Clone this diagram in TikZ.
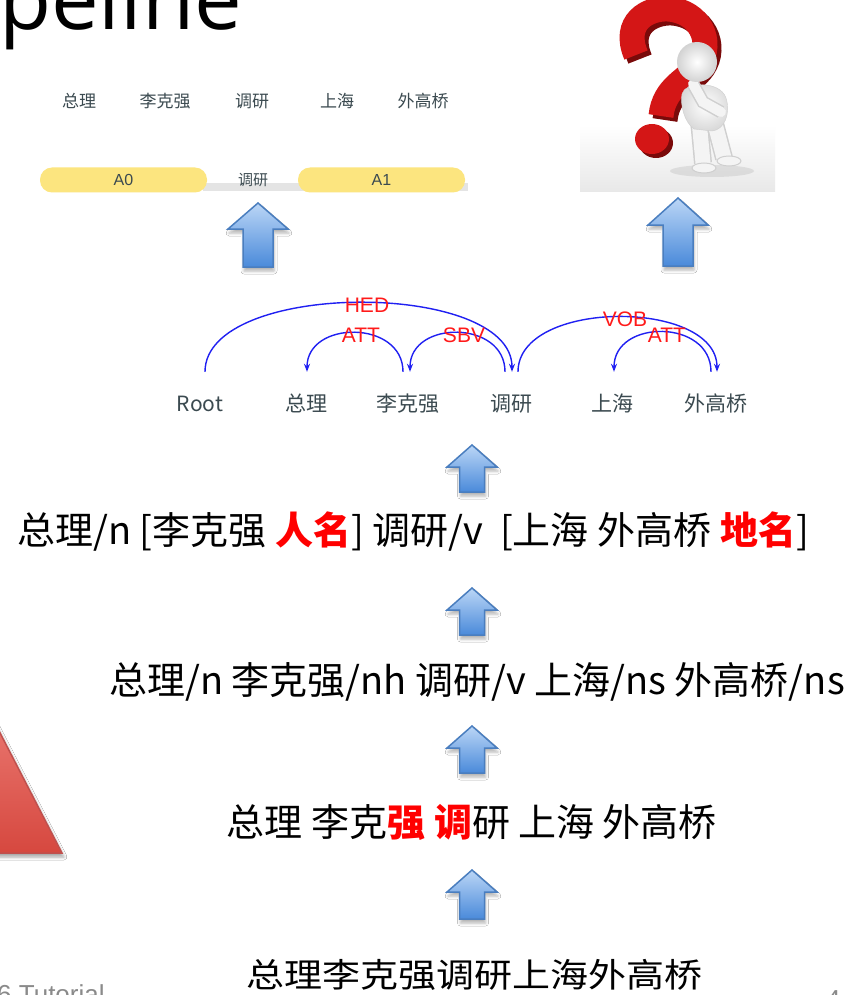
\documentclass[tikz,border=0pt]{standalone}
\usepackage{fontspec}
\setmainfont{Noto Sans CJK SC}
\newfontfamily\latinsans{Liberation Sans}
\newfontfamily\titlefont{Open Sans}
\usetikzlibrary{arrows.meta,shadows.blur}

\definecolor{wordgrey}{HTML}{3B4A50}
\definecolor{pillyellow}{HTML}{FCE57F}
\definecolor{bargrey}{HTML}{E4E4E4}
\definecolor{arcblue}{HTML}{2020F2}
\definecolor{labelred}{HTML}{FF1A1A}
\definecolor{hlred}{HTML}{FF0000}
\definecolor{arrowtop}{HTML}{BBD6F6}
\definecolor{arrowbot}{HTML}{4A8ADA}
\definecolor{arrowedge}{HTML}{4A7EBF}
\definecolor{qred}{HTML}{D41616}
\definecolor{qdark}{HTML}{7A0A0A}
\definecolor{tritop}{HTML}{F5918B}
\definecolor{tribot}{HTML}{D6483F}
\definecolor{triedge}{HTML}{C0504D}
\definecolor{footgrey}{HTML}{8A8A8A}
\definecolor{figedge}{HTML}{CFCFCF}
\definecolor{figbody}{HTML}{F4F4F4}

\newcommand\hlword[1]{\textcolor{hlred}{\bfseries #1}}

\tikzset{
  srlword/.style={font=\fontsize{17}{17}\selectfont, text=wordgrey, inner sep=0},
  pill/.style={fill=pillyellow, rounded corners=12pt, minimum height=25pt,
    inner sep=0, font=\latinsans\fontsize{16}{16}\selectfont, text=wordgrey},
  depword/.style={font=\fontsize{21}{21}\selectfont, text=wordgrey, inner sep=0,
    anchor=base, text height=17pt, text depth=4pt},
  deparc/.style={draw=arcblue, line width=1.4pt, -{Stealth[length=8pt,width=6pt]}},
  deplabel/.style={text=labelred, font=\latinsans\fontsize{21}{21}\selectfont, inner sep=0},
  bigline/.style={font=\fontsize{38}{38}\selectfont, inner sep=0, anchor=base},
  arrowbody/.style={top color=arrowtop, bottom color=arrowbot, draw=arrowedge,
    line width=1.5pt, line join=miter,
    blur shadow={shadow xshift=1pt, shadow yshift=-4pt, shadow blur radius=3pt, shadow opacity=30}},
  pics/uparrow/.style n args={3}{code={
    \path[arrowbody] (0,0) -- (#1/2,#3) -- (#1/4,#3) -- (#1/4,#2) -- (-#1/4,#2)
      -- (-#1/4,#3) -- (-#1/2,#3) -- cycle;
  }},
  limb/.style={line cap=round, preaction={draw=figedge, line width=#1+3pt}, draw=figbody, line width=#1},
  footer/.style={font=\latinsans\fontsize{26}{26}\selectfont, text=footgrey, inner sep=0},
}

\begin{document}
\begin{tikzpicture}[x=1pt,y=-1pt]
\useasboundingbox (0,0) rectangle (852,995);
\fill[white] (0,0) rectangle (852,995);

% slide title, cut by the top edge
\node[anchor=base west, inner sep=0, font=\titlefont\fontsize{85}{85}\selectfont] (title) at (-1,30) {peline};

% ---------- semantic role panel ----------
\node[srlword] (s1) at (79,101) {总理};
\node[srlword] (s2) at (165,101) {李克强};
\node[srlword] (s3) at (252,101) {调研};
\node[srlword] (s4) at (337,101) {上海};
\node[srlword] (s5) at (423,101) {外高桥};

\fill[bargrey] (203,183) rectangle (468,191);
\node[pill, minimum width=167pt] (a0) at (123.5,180) {A0};
\node[pill, minimum width=167pt] (a1) at (381.5,180) {A1};
\node[srlword, font=\fontsize{15}{15}\selectfont] (pred) at (253,180) {调研};

% ---------- thinking figure ----------
\begin{scope}
  \shade[top color=white, bottom color=gray!18] (580,125) rectangle (775,192);
  \fill[gray!50, opacity=.4] (712,171) ellipse [x radius=42, y radius=6];
  % question mark, dark back face then red front
  \draw[qdark, line width=25pt, shift={(4,4)}] (636,55) .. controls (622,22) and (648,8) .. (668,9)
    .. controls (700,11) and (714,42) .. (699,64) .. controls (688,80) and (664,86) .. (661,116);
  \draw[qred, line width=25pt] (636,55) .. controls (622,22) and (648,8) .. (668,9)
    .. controls (700,11) and (714,42) .. (699,64) .. controls (688,80) and (664,86) .. (661,116);
  \fill[qdark] (656,143) ellipse [x radius=17, y radius=15];
  \fill[qred] (652,139) ellipse [x radius=17, y radius=15];
  % little white figure
  \draw[limb=15pt] (699,120) -- (703,163);
  \draw[limb=15pt] (714,120) -- (724,158);
  \fill[figbody, draw=figedge, line width=1pt] (704,168) ellipse [x radius=12, y radius=5];
  \fill[figbody, draw=figedge, line width=1pt] (729,161) ellipse [x radius=12, y radius=5];
  \shade[inner color=white, outer color=gray!30, draw=figedge] (682,94) .. controls (684,82) and (720,80) .. (726,98)
    .. controls (731,114) and (724,130) .. (712,131) -- (694,129)
    .. controls (684,122) and (680,104) .. (682,94) -- cycle;
  \draw[limb=10pt] (721,112) -- (703,102) -- (693,84);
  \shade[inner color=white, outer color=gray!35] (697,62) circle [radius=20];
\end{scope}

% ---------- up arrows ----------
\pic (up1) at (258,203) {uparrow={60}{64}{26}};
\pic (up2) at (678,198) {uparrow={60}{68}{27}};
\pic (up3) at (472,445) {uparrow={50}{47}{22}};
\pic (up4) at (472,588) {uparrow={50}{47}{22}};
\pic (up5) at (472,726) {uparrow={50}{47}{22}};
\pic (up6) at (472,870) {uparrow={50}{49}{22}};

% ---------- dependency tree ----------
\node[depword] (r0) at (200,411) {Root};
\node[depword] (r1) at (306,411) {总理};
\node[depword] (r2) at (408,411) {李克强};
\node[depword] (r3) at (511,411) {调研};
\node[depword] (r4) at (612,411) {上海};
\node[depword] (r5) at (716,411) {外高桥};

\draw[deparc] ([xshift=5pt,yshift=22pt]r0.north) .. controls +(0,-92) and +(0,-92) .. ([xshift=1pt,yshift=22pt]r3.north);
\draw[deparc] ([xshift=-5pt,yshift=22pt]r2.north) .. controls +(0,-52) and +(0,-52) .. ([xshift=1pt,yshift=22pt]r1.north);
\draw[deparc] ([xshift=-6pt,yshift=22pt]r3.north) .. controls +(0,-52) and +(0,-52) .. ([xshift=2pt,yshift=22pt]r2.north);
\draw[deparc] ([xshift=7pt,yshift=22pt]r3.north) .. controls +(0,-73) and +(0,-73) .. ([xshift=1pt,yshift=22pt]r5.north);
\draw[deparc] ([xshift=-5pt,yshift=22pt]r5.north) .. controls +(0,-53) and +(0,-53) .. ([xshift=2pt,yshift=22pt]r4.north);

\node[deplabel] (lhed) at (367,305) {HED};
\node[deplabel] (latt1) at (361,335) {ATT};
\node[deplabel] (lsbv) at (464,335) {SBV};
\node[deplabel] (lvob) at (625,319) {VOB};
\node[deplabel] (latt2) at (667,335) {ATT};

% ---------- processing stages ----------
\node[bigline] (ner) at (413,544) {总理/n [李克强 \hlword{人名}] 调研/v\ \ [上海 外高桥 \hlword{地名}]};
\node[bigline] (pos) at (477,694) {总理/n 李克强/nh 调研/v 上海/ns 外高桥/ns};
\node[bigline] (seg) at (472,836) {总理 李克\hlword{强} \hlword{调}研 上海 外高桥};
\node[bigline, yscale=0.88, transform shape] (raw) at (474,987) {总理李克强调研上海外高桥};

% ---------- side triangle and footer ----------
\path[top color=tritop, bottom color=tribot, draw=triedge, line width=1.5pt,
  blur shadow={shadow xshift=2pt, shadow yshift=-4pt, shadow blur radius=3pt, shadow opacity=35}]
  (-50,636) -- (62,853) -- (-50,853) -- cycle;
\node[footer, anchor=base west] (foot) at (-3,1003) {6 Tutorial};
\node[footer, anchor=base west] (page) at (826,1008) {4};
\end{tikzpicture}
\end{document}
